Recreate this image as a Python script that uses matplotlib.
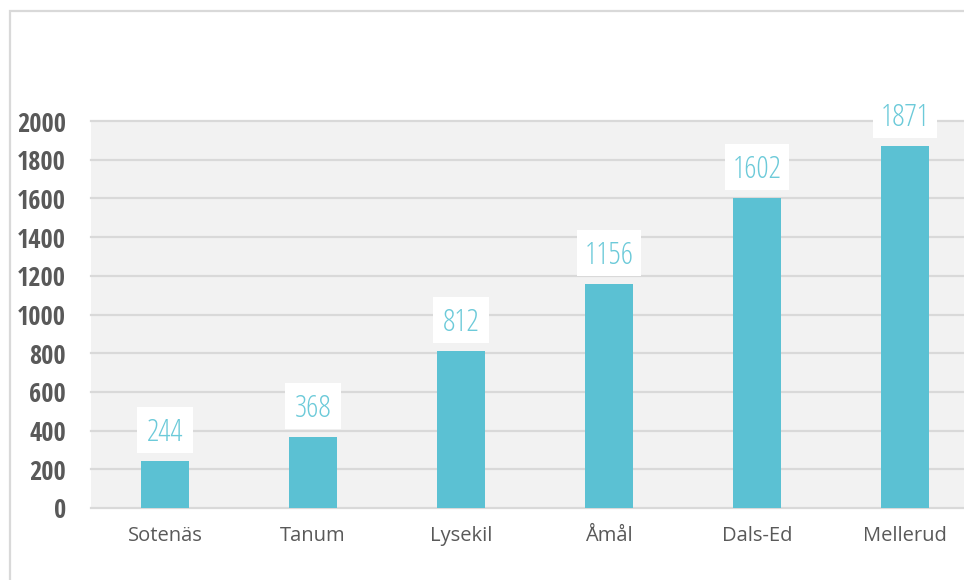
import matplotlib
matplotlib.use("Agg")
import matplotlib.pyplot as plt
import matplotlib.transforms as mtransforms
from matplotlib.patches import Rectangle

municipalities = ["Sotenäs", "Tanum", "Lysekil", "Åmål", "Dals-Ed", "Mellerud"]
counts = [244, 368, 812, 1156, 1602, 1871]
y_ticks = [0, 200, 400, 600, 800, 1000, 1200, 1400, 1600, 1800, 2000]

bar_color = "#5bc1d3"
label_color = "#6ccad9"
text_gray = "#595959"
grid_gray = "#d9d9d9"

fig = plt.figure(figsize=(9.64, 5.8), dpi=100)
fig.patch.set_facecolor("white")

# outer frame, runs off the right and bottom edges
fig.add_artist(Rectangle((10 / 964, -0.1), 1.2, 0.1 + 569 / 580,
                         transform=fig.transFigure, fill=False,
                         edgecolor=grid_gray, linewidth=1.6))

ax = fig.add_axes([91 / 964, 72 / 580, 888 / 964, 387 / 580])
ax.set_facecolor("#f2f2f2")

x = list(range(len(municipalities)))
ax.bar(x, counts, width=0.32, color=bar_color, zorder=3)

# value labels on white cards floating just above each bar
for xi, v in zip(x, counts):
    card_w = 0.56 if len(str(v)) == 3 else 0.64  # inches
    anchor = fig.dpi_scale_trans + mtransforms.ScaledTranslation(xi, v, ax.transData)
    ax.add_patch(Rectangle((-card_w / 2, 0.08), card_w, 0.46, transform=anchor,
                           facecolor="white", edgecolor="none", zorder=4,
                           clip_on=False))
    ax.annotate(str(v), (xi, v), xytext=(0, 14.4), textcoords="offset points",
                ha="center", va="baseline", fontsize=22, family="Open Sans",
                fontstretch="condensed", fontweight=300,
                color=label_color, zorder=5)

ax.set_xlim(-0.5, len(municipalities) - 0.5)
ax.set_ylim(0, 2000)
ax.set_yticks(y_ticks)
ax.set_yticklabels([str(t) for t in y_ticks], fontsize=19, fontweight="bold",
                   family="Open Sans Condensed", fontstretch="condensed",
                   color=text_gray)
ax.set_xticks(x)
ax.set_xticklabels(municipalities, fontsize=14.5, family="Open Sans",
                   color=text_gray)
ax.tick_params(axis="y", length=0, pad=18)
ax.tick_params(axis="x", length=0, pad=13)

ax.yaxis.grid(True, color=grid_gray, linewidth=1.6, zorder=0)
for gl in ax.get_ygridlines():
    gl.set_clip_on(False)
ax.set_axisbelow(True)
for s in ax.spines.values():
    s.set_visible(False)

fig.savefig("out.png", dpi=100)
